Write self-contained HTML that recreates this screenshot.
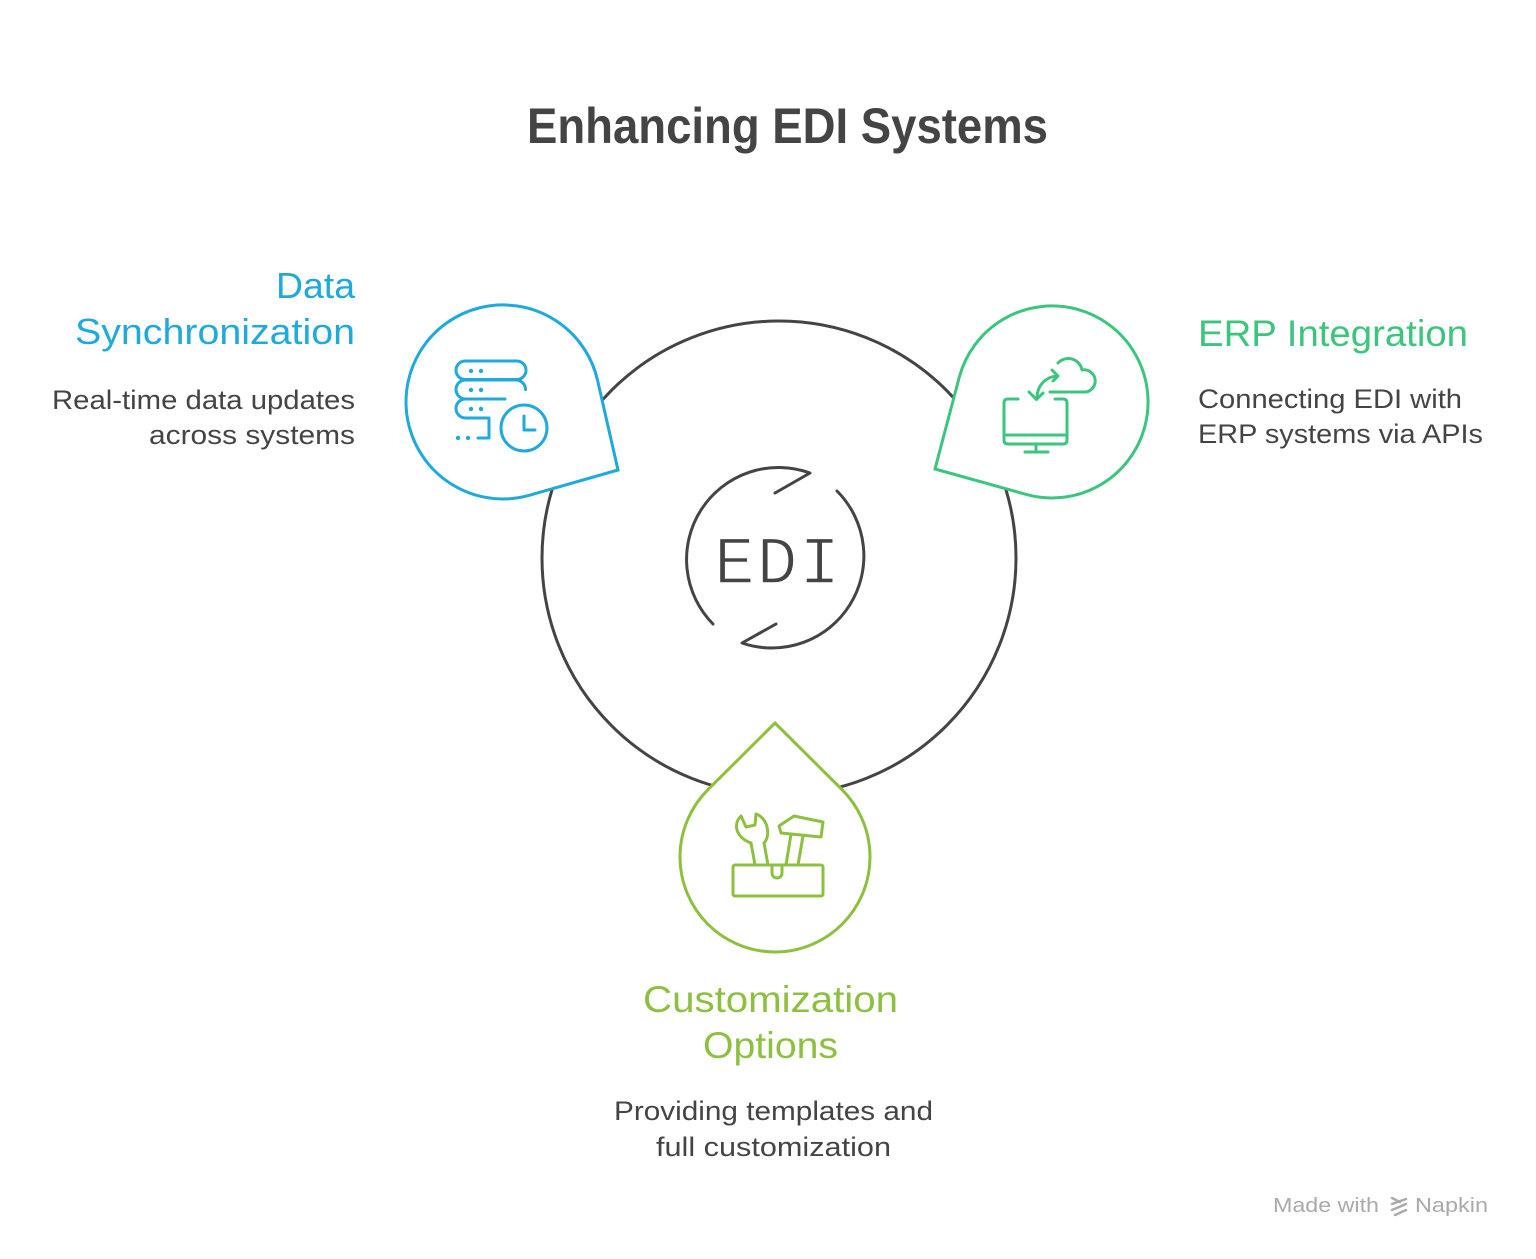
<!DOCTYPE html>
<html>
<head>
<meta charset="utf-8">
<style>
  html,body{margin:0;padding:0;background:#fff;}
  svg{display:block;}
  text{font-family:"Liberation Sans",sans-serif;}
</style>
</head>
<body>
<svg width="1536" height="1259" viewBox="0 0 1536 1259" xmlns="http://www.w3.org/2000/svg">
  <rect width="1536" height="1259" fill="#fff"/>

  <!-- Title -->
  <text x="527" y="143" font-size="50" font-weight="bold" fill="#444" textLength="521" lengthAdjust="spacingAndGlyphs">Enhancing EDI Systems</text>

  <!-- Big circle -->
  <circle cx="779" cy="558" r="237" fill="none" stroke="#444" stroke-width="3"/>

  <!-- Inner EDI rotating circle -->
  <path d="M 775 493 L 810 473 A 92 92 0 0 0 713 624" fill="none" stroke="#444" stroke-width="3" stroke-linecap="round" stroke-linejoin="round"/>
  <path d="M 837 491 A 92 92 0 0 1 742 643 L 776 624" fill="none" stroke="#444" stroke-width="3" stroke-linecap="round" stroke-linejoin="round"/>
  <text x="714" y="583" font-size="68" fill="#444" stroke="#fff" stroke-width="1.6" style="font-family:'Liberation Mono',monospace" textLength="126" lengthAdjust="spacing">EDI</text>

  <!-- Blue drop -->
  <path d="M 618 470 L 529.7 495.2 A 97 97 0 1 1 597.6 380.5 Z" fill="#fff" stroke="#1fa9dc" stroke-width="3" stroke-linejoin="miter"/>
  <g fill="none" stroke="#1fa9dc" stroke-width="3" stroke-linecap="round" stroke-linejoin="round">
    <rect x="456" y="361" width="70" height="18.5" rx="9.25"/>
    <path d="M 505 399 H 465.5 A 9.5 9.5 0 0 1 465.5 380 H 516 A 9.5 9.5 0 0 1 525.5 389.5"/>
    <path d="M 465.5 399 A 9.5 9.5 0 0 0 465.5 418 H 489 V 438 H 478"/>
    <circle cx="524" cy="428" r="23"/>
    <path d="M 524 416 V 430 H 535"/>
  </g>
  <g fill="#1fa9dc">
    <circle cx="471" cy="371" r="2.2"/><circle cx="481" cy="371" r="2.2"/>
    <circle cx="471" cy="390" r="2.2"/><circle cx="481" cy="390" r="2.2"/>
    <circle cx="471" cy="409" r="2.2"/><circle cx="481" cy="409" r="2.2"/>
    <circle cx="458" cy="438" r="2.2"/><circle cx="468" cy="438" r="2.2"/>
  </g>

  <!-- Green drop -->
  <path d="M 935 469 L 1026.2 494.4 A 96 96 0 1 0 959.2 377.5 Z" fill="#fff" stroke="#3cc57e" stroke-width="3" stroke-linejoin="miter"/>
  <g fill="none" stroke="#3cc57e" stroke-width="3" stroke-linecap="round" stroke-linejoin="round">
    <path d="M 1018 399 H 1008 Q 1004 399 1004 403 V 440 Q 1004 444 1008 444 H 1063 Q 1067 444 1067 440 V 403 Q 1067 399 1063 399 H 1055"/>
    <path d="M 1004 435 H 1067"/>
    <path d="M 1036 444 V 452 M 1025 452 H 1048"/>
    <path d="M 1058 363 A 14 14 0 0 1 1082 370 A 11 11 0 0 1 1086 392 H 1050"/>
    <path d="M 1037 398 C 1037 386 1045 377 1057 376"/>
    <path d="M 1052 370 L 1058 376 L 1053 381"/>
    <path d="M 1029 392 L 1036.5 399.5 L 1043 393"/>
  </g>

  <!-- Lime drop -->
  <path d="M 775 723 L 841.9 789.5 A 95 95 0 1 1 708.1 789.5 Z" fill="#fff" stroke="#8dc03f" stroke-width="3" stroke-linejoin="miter"/>
  <g fill="none" stroke="#8dc03f" stroke-width="3" stroke-linecap="round" stroke-linejoin="round">
    <rect x="733" y="865" width="90" height="31" rx="2"/>
    <path d="M 772 865 V 873 A 5 5 0 0 0 782 873 V 865"/>
    <path d="M 751 843 L 755 865 M 764 843 L 768 865"/>
    <path d="M 751 843 C 737 838 732 825 741 816 L 746 827 L 755 825 L 756 814 C 768 818 771 836 764 843"/>
    <path d="M 779 826 L 794 816 L 823 822 L 821 837 L 781 833 Z"/>
    <path d="M 791 834 L 786 865 M 803 836 L 798 865"/>
  </g>

  <!-- Left labels -->
  <text x="355" y="298" font-size="36" fill="#1fa9dc" text-anchor="end" textLength="79" lengthAdjust="spacingAndGlyphs">Data</text>
  <text x="355" y="344" font-size="36" fill="#1fa9dc" text-anchor="end" textLength="280" lengthAdjust="spacingAndGlyphs">Synchronization</text>
  <text x="355" y="409" font-size="27" fill="#444" text-anchor="end" textLength="303" lengthAdjust="spacingAndGlyphs">Real-time data updates</text>
  <text x="355" y="444" font-size="27" fill="#444" text-anchor="end" textLength="206" lengthAdjust="spacingAndGlyphs">across systems</text>

  <!-- Right labels -->
  <text x="1198" y="346" font-size="37" fill="#3cc57e" textLength="270" lengthAdjust="spacingAndGlyphs">ERP Integration</text>
  <text x="1198" y="408" font-size="27" fill="#444" textLength="264" lengthAdjust="spacingAndGlyphs">Connecting EDI with</text>
  <text x="1198" y="443" font-size="27" fill="#444" textLength="285" lengthAdjust="spacingAndGlyphs">ERP systems via APIs</text>

  <!-- Bottom labels -->
  <text x="643" y="1012" font-size="37" fill="#8dc03f" textLength="255" lengthAdjust="spacingAndGlyphs">Customization</text>
  <text x="703" y="1058" font-size="37" fill="#8dc03f" textLength="135" lengthAdjust="spacingAndGlyphs">Options</text>
  <text x="614" y="1120" font-size="27" fill="#444" textLength="319" lengthAdjust="spacingAndGlyphs">Providing templates and</text>
  <text x="656" y="1156" font-size="27" fill="#444" textLength="235" lengthAdjust="spacingAndGlyphs">full customization</text>

  <!-- Watermark -->
  <text x="1273" y="1212" font-size="20" fill="#aaa" textLength="106" lengthAdjust="spacingAndGlyphs">Made with</text>
  <g fill="none" stroke="#aaa" stroke-width="2.5" stroke-linecap="round">
    <path d="M 1392 1198 L 1400 1202"/>
    <path d="M 1392 1204 L 1406 1199"/>
    <path d="M 1392 1210 L 1406 1204"/>
    <path d="M 1395 1215 L 1406 1210"/>
  </g>
  <text x="1415" y="1212" font-size="20" fill="#aaa" textLength="73" lengthAdjust="spacingAndGlyphs">Napkin</text>
</svg>
</body>
</html>
